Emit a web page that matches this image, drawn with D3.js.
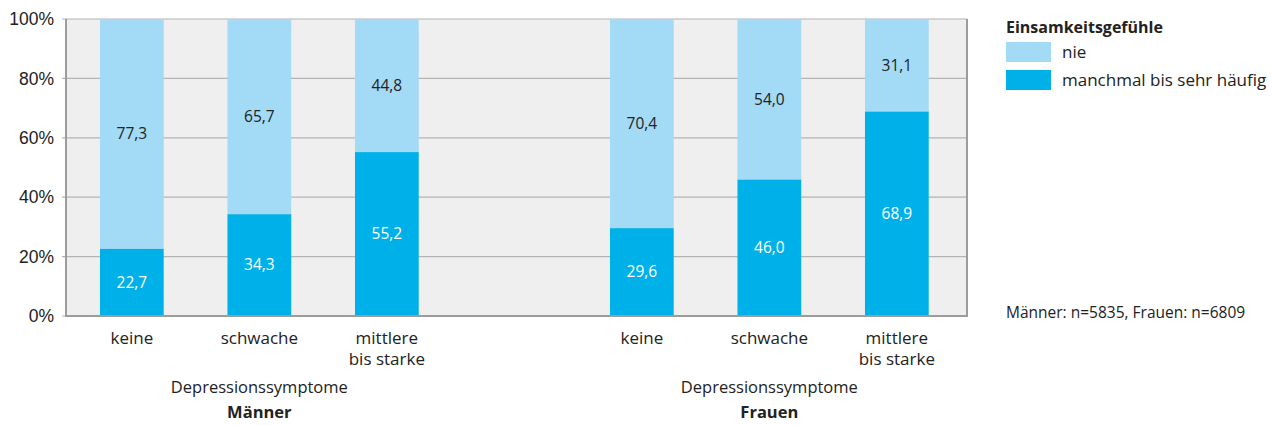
<!DOCTYPE html>
<html>
<head>
<meta charset="utf-8">
<script src="https://cdn.jsdelivr.net/npm/d3@7"></script>
<style>
  html, body { margin: 0; padding: 0; background: #fff; }
  svg { display: block; font-family: "Open Sans", "Noto Sans", sans-serif; }
</style>
</head>
<body>
<svg id="chart" width="1272" height="425"></svg>
<script>
// Anteile (%) je Gruppe: Männer und Frauen nach Depressionssymptomen
const slots = ["m-keine", "m-schwache", "m-mittlere", "gap", "f-keine", "f-schwache", "f-mittlere"];
const categoryLabels = [["keine"], ["schwache"], ["mittlere", "bis starke"], null, ["keine"], ["schwache"], ["mittlere", "bis starke"]];
const manchmal = [22.7, 34.3, 55.2, null, 29.6, 46.0, 68.9];
const nie = [77.3, 65.7, 44.8, null, 70.4, 54.0, 31.1];
const groupLabels = ["Männer", "Frauen"];
const groupCenters = ["m-schwache", "f-schwache"];
const yTicks = [0, 20, 40, 60, 80, 100];
const legendTitle = "Einsamkeitsgefühle";
const legendItems = ["nie", "manchmal bis sehr häufig"];
const note = "Männer: n=5835, Frauen: n=6809";

const colors = { nie: "#a3daf6", manchmal: "#00b1e9" };
const fmt = v => v.toFixed(1).replace(".", ",");

const svg = d3.select("#chart");
const plot = { left: 66, right: 967, top: 19, bottom: 316 };

const x = d3.scaleBand().domain(slots).range([68.1, 960.6]).paddingInner(0.5).paddingOuter(0.25);
const y = d3.scaleLinear().domain([0, 100]).range([plot.bottom, plot.top]);

// Hintergrund der Zeichenfläche
svg.append("rect")
  .attr("x", plot.left).attr("y", plot.top)
  .attr("width", plot.right - plot.left).attr("height", plot.bottom - plot.top)
  .attr("fill", "#efefef");

// Gitterlinien
svg.append("g").selectAll("line").data(yTicks).join("line")
  .attr("x1", plot.left - 4).attr("x2", plot.right)
  .attr("y1", d => y(d)).attr("y2", d => y(d))
  .attr("stroke", "#b4b4b4").attr("stroke-width", 1.2);

// Y-Achse
const yAxis = d3.axisLeft(y).tickValues(yTicks).tickFormat(d => d + "%").tickSize(0).tickPadding(12);
const yg = svg.append("g").attr("transform", `translate(${plot.left},0)`).call(yAxis);
yg.select(".domain").remove();
yg.selectAll("text").attr("font-size", 17.5).attr("fill", "#222").attr("dy", "0.32em");

// Balken
const data = slots.map((s, i) => ({ slot: s, m: manchmal[i], n: nie[i] })).filter(d => d.m !== null);

const bars = svg.append("g");
bars.selectAll("rect.m").data(data).join("rect")
  .attr("class", "m")
  .attr("x", d => x(d.slot)).attr("width", x.bandwidth())
  .attr("y", d => y(d.m)).attr("height", d => y(0) - y(d.m))
  .attr("fill", colors.manchmal);
bars.selectAll("rect.n").data(data).join("rect")
  .attr("class", "n")
  .attr("x", d => x(d.slot)).attr("width", x.bandwidth())
  .attr("y", d => y(d.m + d.n)).attr("height", d => y(d.m) - y(d.m + d.n))
  .attr("fill", colors.nie);

// Werte
const labels = svg.append("g").attr("font-size", 15.5).attr("text-anchor", "middle");
labels.selectAll("text.m").data(data).join("text")
  .attr("x", d => x(d.slot) + x.bandwidth() / 2)
  .attr("y", d => y(d.m / 2)).attr("dy", "0.35em")
  .attr("fill", "#fff").text(d => fmt(d.m));
labels.selectAll("text.n").data(data).join("text")
  .attr("x", d => x(d.slot) + x.bandwidth() / 2)
  .attr("y", d => y(d.m + d.n / 2)).attr("dy", "0.35em")
  .attr("fill", "#222").text(d => fmt(d.n));

// Rahmen: links, rechts, unten
const frame = svg.append("g").attr("stroke", "#9c9c9c").attr("stroke-width", 2).attr("fill", "none");
frame.append("line").attr("x1", plot.left).attr("x2", plot.left).attr("y1", plot.top).attr("y2", plot.bottom + 1);
frame.append("line").attr("x1", plot.right).attr("x2", plot.right).attr("y1", plot.top).attr("y2", plot.bottom + 1);
frame.append("line").attr("x1", plot.left).attr("x2", plot.right).attr("y1", plot.bottom).attr("y2", plot.bottom);

// Kategorien
const cats = svg.append("g").attr("font-size", 17).attr("fill", "#222").attr("text-anchor", "middle");
slots.forEach((s, i) => {
  const lines = categoryLabels[i];
  if (!lines) return;
  const t = cats.append("text").attr("x", x(s) + x.bandwidth() / 2).attr("y", 344);
  lines.forEach((l, j) => t.append("tspan").attr("x", x(s) + x.bandwidth() / 2).attr("dy", j === 0 ? 0 : 21).text(l));
});

// Gruppenbeschriftung
groupCenters.forEach((s, i) => {
  const cx = x(s) + x.bandwidth() / 2;
  cats.append("text").attr("x", cx).attr("y", 393).attr("font-size", 16.5).text("Depressionssymptome");
  cats.append("text").attr("x", cx).attr("y", 418).attr("font-size", 16.5).attr("font-weight", "bold").text(groupLabels[i]);
});

// Legende
const leg = svg.append("g").attr("transform", "translate(1006,0)").attr("fill", "#222");
leg.append("text").attr("y", 33).attr("font-size", 16).attr("font-weight", "bold").text(legendTitle);
legendItems.forEach((name, i) => {
  leg.append("rect").attr("x", 0).attr("y", 42 + i * 28).attr("width", 45).attr("height", 20)
    .attr("fill", i === 0 ? colors.nie : colors.manchmal);
  leg.append("text").attr("x", 56).attr("y", 52 + i * 28).attr("dy", "0.35em").attr("font-size", 17).text(name);
});

// Fallzahlen
svg.append("text").attr("x", 1006).attr("y", 318).attr("font-size", 15.5).attr("fill", "#222").text(note);
</script>
</body>
</html>
